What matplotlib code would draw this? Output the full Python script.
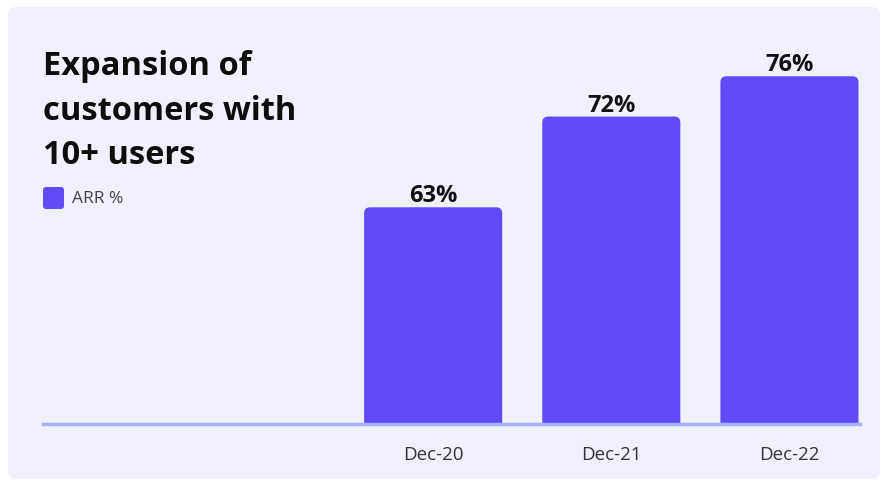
import matplotlib
matplotlib.use("Agg")
import matplotlib.pyplot as plt
from matplotlib.patches import FancyBboxPatch

categories = ["Dec-20", "Dec-21", "Dec-22"]
arr_pct = [63, 72, 76]
value_labels = ["63%", "72%", "76%"]
title = "Expansion of\ncustomers with\n10+ users"
legend_label = "ARR %"

BAR = "#604BF7"
PANEL = "#F0F1FD"
AXIS = "#A9B0FB"
FONT = "Open Sans"

W, H = 887, 485
fig = plt.figure(figsize=(W / 100, H / 100), dpi=100)
fig.patch.set_facecolor("white")

def px(x0, y0, x1, y1):
    return [x0 / W, 1 - y1 / H, (x1 - x0) / W, (y1 - y0) / H]

# panel background
bg = fig.add_axes([0, 0, 1, 1])
bg.set_xlim(0, W)
bg.set_ylim(H, 0)
bg.axis("off")
bg.add_patch(FancyBboxPatch((8, 8), 872, 472, boxstyle="round,pad=0,rounding_size=8",
                            facecolor=PANEL, edgecolor="none"))

ax = fig.add_axes(px(43, 50, 860, 425))
ax.set_facecolor("none")
xs = list(range(len(categories)))
bars = ax.bar(xs, arr_pct, width=0.775, color=BAR)
ax.set_xlim(-2.19, 2.396)
ax.set_ylim(41.5, 41.5 + 375 / 10.08)

fig.canvas.draw()
# convert bars to rounded-top boxes
p0 = ax.transData.transform((0, 0))
p1 = ax.transData.transform((1, 1))
xu = p1[0] - p0[0]
yu = p1[1] - p0[1]
r_px = 6
for b in bars:
    x, y, w, h = b.get_x(), b.get_y(), b.get_width(), b.get_height()
    b.set_visible(False)
    ax.add_patch(FancyBboxPatch((x, y), w, h,
                                boxstyle=f"round,pad=0,rounding_size={r_px / xu}",
                                mutation_aspect=xu / yu,
                                facecolor=BAR, edgecolor="none", clip_on=True))

for x, v, lab in zip(xs, arr_pct, value_labels):
    ax.annotate(lab, (x, v), xytext=(0, 6), textcoords="offset pixels",
                ha="center", va="baseline", fontsize=17, fontweight="bold",
                family=FONT, color="#111111", annotation_clip=False)

for s in ["top", "right", "left"]:
    ax.spines[s].set_visible(False)
ax.spines["bottom"].set_color(AXIS)
ax.spines["bottom"].set_linewidth(2.5)
ax.set_yticks([])
ax.set_xticks(xs)
ax.set_xticklabels(categories, family=FONT, fontsize=13.5, color="#333333")
ax.tick_params(axis="x", length=0, pad=15)

fig.text(43 / W, 1 - 50 / H, title, ha="left", va="top", fontsize=23.5,
         fontweight="bold", family=FONT, color="#0D0D0D", linespacing=1.47)

bg.add_patch(FancyBboxPatch((43, 188), 21, 22, boxstyle="round,pad=0,rounding_size=3",
                            facecolor=BAR, edgecolor="none"))
fig.text(72 / W, 1 - 199 / H, legend_label, ha="left", va="center", fontsize=12.5,
         family=FONT, color="#444444")

fig.savefig("out.png", dpi=100, facecolor="white")
